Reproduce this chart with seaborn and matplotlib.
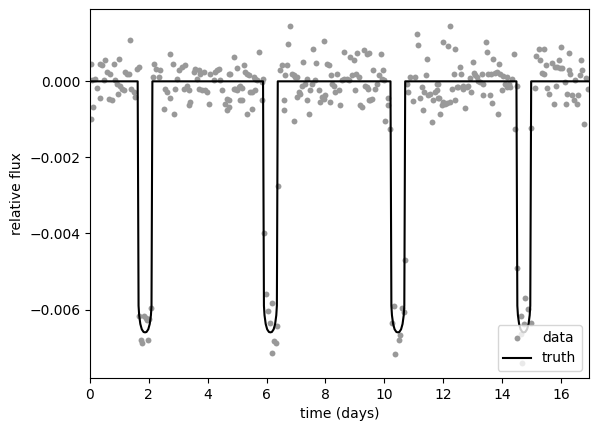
import numpy as np
import matplotlib
matplotlib.use("Agg")
import matplotlib.pyplot as plt
import seaborn as sns

time_days = [
    0.02, 0.05, 0.07, 0.10, 0.18, 0.24, 0.35, 0.35, 0.41, 0.46, 0.52, 0.58, 0.63, 0.69, 0.75, 0.80,
    0.86, 0.92, 0.94, 1.00, 1.03, 1.09, 1.14, 1.20, 1.26, 1.31, 1.37, 1.40, 1.48, 1.54, 1.60, 1.65,
    1.66, 1.72, 1.78, 1.83, 1.89, 1.95, 1.98, 2.00, 2.08,
    2.14, 2.17, 2.23,
    2.33, 2.39, 2.50, 2.56, 2.62, 2.73, 2.73, 2.82, 2.84, 2.90, 2.96, 3.01, 3.13, 3.18, 3.24, 3.30,
    3.35, 3.35, 3.41, 3.52, 3.58, 3.64, 3.69, 3.69, 3.75, 3.80, 3.86, 3.92, 3.97, 4.03, 4.09, 4.20,
    4.26, 4.31, 4.37, 4.43, 4.48, 4.60, 4.65, 4.71, 4.71,
    4.66, 4.73, 4.77, 4.88, 4.90, 4.94, 4.99, 4.99, 5.05, 5.11, 5.11, 5.16, 5.16, 5.22, 5.28, 5.33,
    5.33, 5.39, 5.45, 5.50, 5.50, 5.56, 5.62, 5.62, 5.67, 5.75, 5.84, 5.84, 5.88,
    5.91, 5.97, 6.06, 6.10, 6.17, 6.19, 6.25, 6.31, 6.36, 6.39,
    6.47, 6.52, 6.58, 6.58, 6.64, 6.69, 6.73, 6.81, 6.86, 6.92, 6.92, 6.98, 7.03,
    7.05, 7.09, 7.14, 7.20, 7.23, 7.31, 7.37, 7.37, 7.43, 7.48, 7.54, 7.57, 7.65, 7.69, 7.77, 7.82,
    7.88, 7.94, 7.96, 7.99, 8.05, 8.11, 8.16, 8.20, 8.22, 8.28, 8.33, 8.39, 8.45, 8.50, 8.56, 8.62,
    8.64, 8.73, 8.79, 8.84, 8.90, 8.96, 9.01, 9.05, 9.07, 9.13, 9.18, 9.24, 9.30, 9.35, 9.41, 9.41,
    9.47, 9.43, 9.47, 9.52, 9.58, 9.61, 9.69, 9.75, 9.81, 9.88, 9.92, 9.95, 9.98, 10.03, 10.11, 10.14,
    10.20, 10.27, 10.33, 10.38, 10.50, 10.55, 10.59, 10.67, 10.72,
    10.77, 10.82, 10.88, 10.99, 11.05, 11.11, 11.16, 11.22, 11.28, 11.31, 11.36, 11.42, 11.45, 11.50,
    11.56, 11.62, 11.67, 11.73, 11.79, 11.82,
    11.80, 11.84, 11.86, 11.90, 11.96, 11.99, 12.01, 12.07, 12.13, 12.18, 12.22, 12.24, 12.30, 12.38,
    12.41, 12.41, 12.47, 12.52, 12.58, 12.60, 12.67, 12.69, 12.75, 12.81, 12.86, 12.92, 12.95, 13.03,
    13.06, 13.09, 13.15, 13.20, 13.26, 13.32, 13.34, 13.37, 13.46, 13.49, 13.54, 13.58, 13.62, 13.67,
    13.71, 13.77, 13.83, 13.87, 13.89, 13.94, 14.00, 14.05, 14.11, 14.17,
    14.18, 14.22, 14.28, 14.33, 14.41, 14.45, 14.50, 14.52,
    14.63, 14.66, 14.69, 14.74, 14.78, 14.89, 14.97, 14.98,
    15.13, 15.16, 15.24, 15.30, 15.35, 15.41, 15.41, 15.50, 15.52, 15.61, 15.69, 15.75, 15.81, 15.84,
    15.86, 15.92, 15.98, 16.01, 16.03, 16.15, 16.18, 16.20, 16.26, 16.29, 16.32, 16.37, 16.43, 16.49,
    16.54, 16.58, 16.66, 16.68, 16.71, 16.79, 16.86, 16.92,
]
flux_1e4 = [
    4.6, -9.8, 0.3, -6.8, 0.7, -1.7, -4.3, 4.6, 4.2, 0.3, 5.5, 2.5, -4.6, 2.0, -5.0, 4.6,
    0.3, -0.6, -3.2, 6.0, -1.1, -1.9, -2.4, 2.5, 2.0, 2.0, 10.8, -1.9, -2.8, -4.1, 3.3, 3.8,
    -61.6, -68.0, -68.9, -61.8, -62.2, -62.7, -68.0, -62.5, -59.6,
    1.1, 4.6, 3.3,
    1.1, 3.1, -7.2, -1.9, -2.8, 7.3, -4.3, 4.6, -8.5, -1.9, 0.7, 2.9, 3.8, -1.9, 4.2, -1.1,
    -2.4, -6.3, -5.4, 2.5, 3.3, 0.7, 2.9, -1.9, 2.0, -2.4, 2.5, -2.4, -2.8, -5.9, 2.0, 0.3,
    2.5, 2.9, 3.3, 0.3, -2.4, -5.9, -7.6, -5.0, 2.0,
    -4.6, -6.8, 2.0, -1.9, 6.4, -1.9, 3.6, -2.4, -1.5, -1.3, -4.8, -1.7, -5.0, 4.2, 2.5, 2.0,
    -8.7, 1.6, -2.8, -2.8, -7.2, 1.1, 0.7, -2.4, 0.3, 7.7, -0.2, -5.0, 0.7,
    -40.0, -56.0, -60.3, -63.6, -58.2, -71.3, -68.2, -68.9, -64.2, -27.6,
    2.9, 4.2, -5.0, -7.5, 1.6, 4.2, 9.9, 14.5, 2.0, 1.6, -10.4, 1.1, -4.1,
    1.1, -2.8, -3.2, -1.1, 5.1, -0.6, 0.7, -5.0, -8.5, -2.4, -0.6, 8.6, 0.3, 4.8, -2.4, -5.4,
    -4.1, -4.6, 10.5, -3.7, 4.6, 4.2, -5.4, 1.6, -0.6, -1.1, -2.8, 2.0, -2.4, -6.3, 0.3, 0.7,
    7.7, 0.7, 0.3, 6.4, 1.6, 5.5, -2.4, 2.0, 7.5, 1.1, -6.3, -6.8, 8.2, -1.1, 7.3, -1.5,
    -5.0, -1.9, 7.5, -5.0, -4.6, 3.1, -1.9, -0.6, 1.6, 7.1, 0.7, 3.1, 0.3, -10.3, -4.3, -6.1,
    -12.5, -63.6, -59.2, -71.7, -68.0, -66.8, -59.6, -60.7, -47.0,
    -0.8, -2.8, 1.1, -5.2, 1.1, 12.5, 9.5, -4.3, -1.5, -7.5, -2.8, 1.6, 6.0, -3.7,
    -3.2, -10.7, -4.8, -2.8, -0.8, -4.3,
    -2.4, -0.6, -4.3, -8.5, -6.3, 10.4, -5.4, -5.9, -5.7, 9.2, 14.5, -5.4, -1.9, 1.8,
    8.6, -5.0, -1.5, -1.5, 3.8, 2.0, -2.1, -1.1, -6.9, -1.5, -1.3, 1.0, -2.8, 5.1,
    2.2, 1.6, 1.1, 0.1, -0.2, 2.0, -3.7, -0.6, 10.4, 7.7, 1.8, -3.7, 2.0, -5.7,
    6.0, 2.2, 2.5, -8.5, 4.6, 1.8, -2.4, 1.3, -0.6, -1.5,
    1.1, -0.8, -1.5, 0.7, 7.3, -12.5, -1.1, -49.0,
    -61.6, -66.4, -74.0, -63.8, -56.9, -59.8, -63.6, -12.2,
    -1.7, 6.6, 8.6, 5.7, 2.2, 8.6, 2.0, 4.2, -1.7, -3.4, 4.8, -5.9, 3.9, -1.1,
    3.8, 5.7, 3.6, 8.9, 3.6, -0.2, -5.9, -3.2, 7.5, 3.1, 1.8, -3.7, -5.0, 0.3,
    -5.9, -3.7, 1.6, 5.7, 2.9, -11.1, 0.8, -2.0,
]

# true transit model: transit mid-times and one transit profile (offset days, flux 1e-4)
transit_centers = [1.87, 6.13, 10.46, 14.74]
profile_dt = [-0.25, -0.22, -0.20, -0.16, -0.11, -0.05, 0.0, 0.05, 0.11, 0.16, 0.20, 0.22, 0.25]
profile_flux = [0.0, -59.0, -61.5, -63.8, -65.2, -65.9, -66.0, -65.9, -65.2, -63.8, -61.5, -59.0, 0.0]
t_start, t_end = 0.0, 16.95

flux = np.array(flux_1e4) * 1e-4

truth_t = [t_start]
truth_f = [0.0]
for c in transit_centers:
    truth_t += [c + d for d in profile_dt]
    truth_f += profile_flux
truth_t.append(t_end)
truth_f.append(0.0)
truth_f = np.array(truth_f) * 1e-4

fig, ax = plt.subplots(figsize=(5.96, 4.32), dpi=100)
fig.subplots_adjust(left=0.151, right=0.988, top=0.979, bottom=0.125)

sns.scatterplot(x=time_days, y=flux, color="0.6", s=18, linewidth=0, label="data", ax=ax)
sns.lineplot(x=truth_t, y=truth_f, color="k", lw=1.5, estimator=None, sort=False, label="truth", ax=ax)

ax.set_xlim(t_start, t_end)
ax.set_ylim(-0.0078, 0.0019)
ax.set_xlabel("time (days)")
ax.set_ylabel("relative flux")
ax.legend(loc="lower right")

fig.savefig("out.png", dpi=100)
